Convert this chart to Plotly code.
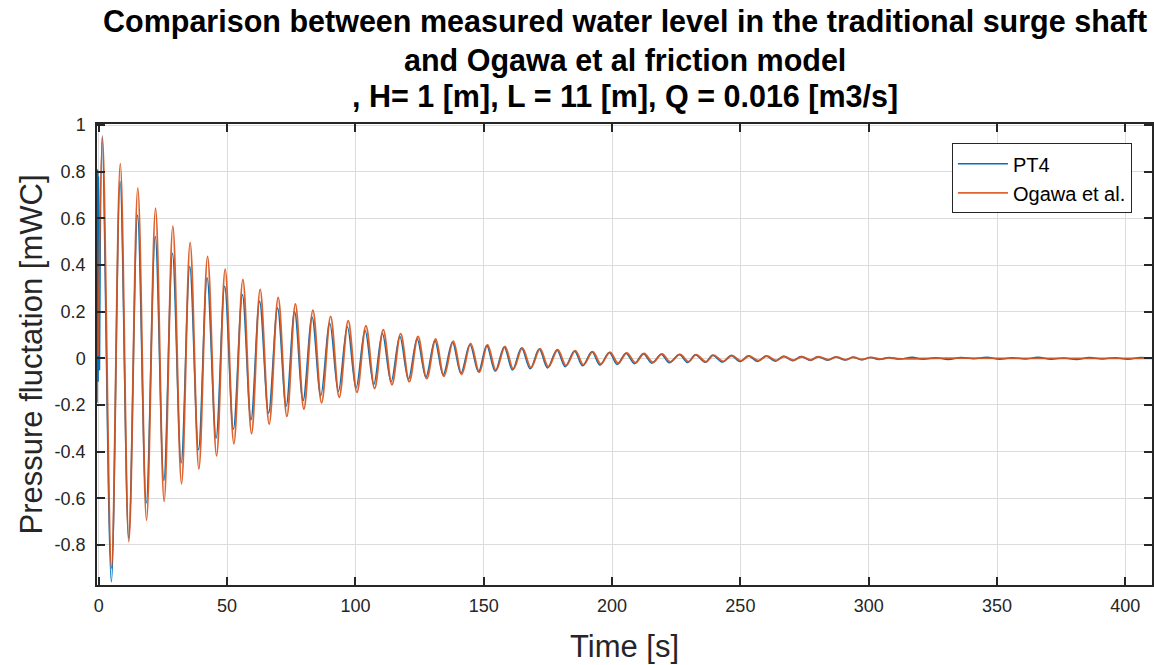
import plotly.graph_objects as go

# ---------------- data ----------------
# Ogawa et al. model: successive extrema (peak, trough, peak, ...)
ogawa_t = [-0.27, 1.44, 4.95, 8.38, 11.70, 15.20, 18.60, 22.11, 25.46, 28.85, 32.24,
           35.59, 38.99, 42.38, 45.89, 49.24, 52.63, 56.14, 59.53, 62.88, 66.39,
           69.90, 73.29, 76.61, 79.92, 83.43, 86.82, 90.33, 93.68, 97.19, 100.58,
           104.09, 107.48, 110.84, 114.23, 117.62, 120.97, 124.37, 127.76, 131.27, 134.50,
           138.13, 141.40, 144.91, 148.26, 151.46, 154.78, 158.28, 161.52, 165.03, 168.42,
           171.93, 175.17, 178.83, 182.07, 185.69, 188.81, 192.48, 195.59, 199.22, 202.34,
           205.73, 209.08, 212.48, 215.87, 219.49, 222.61, 226.51, 229.75, 232.75, 236.65,
           239.49, 243.39, 246.67, 250.18, 253.41, 257.04, 260.31, 263.94, 267.06, 270.68,
           273.96, 277.47, 280.43, 284.33, 287.33, 291.23, 294.07, 297.47, 300.97, 304.4,
           307.8, 311.2, 330.0, 360.0, 410.4]
ogawa_v = [0.01, 0.947, -0.900, 0.835, -0.786, 0.731, -0.694, 0.644, -0.613, 0.567, -0.538,
           0.497, -0.474, 0.437, -0.418, 0.382, -0.366, 0.338, -0.323, 0.296, -0.282,
           0.261, -0.249, 0.233, -0.217, 0.206, -0.191, 0.180, -0.167, 0.161, -0.146,
           0.140, -0.129, 0.123, -0.113, 0.106, -0.100, 0.094, -0.087, 0.083, -0.077,
           0.074, -0.069, 0.064, -0.060, 0.058, -0.052, 0.051, -0.046, 0.045, -0.040,
           0.041, -0.036, 0.037, -0.031, 0.033, -0.028, 0.029, -0.024, 0.026, -0.021,
           0.023, -0.019, 0.021, -0.017, 0.019, -0.015, 0.017, -0.014, 0.016, -0.015,
           0.014, -0.013, 0.012, -0.011, 0.010, -0.010, 0.010, -0.009, 0.008, -0.008,
           0.007, -0.007, 0.007, -0.006, 0.006, -0.006, 0.005, -0.005, 0.004, -0.003,
           0.002, -0.002, 0.001, 0.0, 0.0]

# PT4 measurement: initial spike (opening transient)
pt4_spike_t = [-0.70, -0.58, -0.48, -0.36, -0.26, -0.14, -0.04, 0.08, 0.18, 0.27]
pt4_spike_v = [-0.19, 0.81, -0.12, 0.80, -0.10, 0.78, -0.08, 0.60, -0.05, -0.05]

# PT4 measurement: successive extrema and residual noise
pt4_t = [0.27, 1.35, 4.90, 8.30, 11.65, 15.10, 18.50, 22.00, 25.35, 28.70, 32.10,
         35.45, 38.85, 42.20, 45.70, 49.05, 52.45, 55.95, 59.30, 62.65, 66.15,
         69.65, 73.00, 76.30, 79.60, 83.10, 86.50, 90.00, 93.35, 96.85, 100.25,
         103.75, 107.15, 110.50, 113.90, 117.30, 120.65, 124.05, 127.45, 130.95, 134.20,
         137.80, 141.10, 144.60, 147.95, 151.15, 154.45, 157.95, 161.20, 164.70, 168.10,
         171.60, 174.85, 178.50, 181.75, 185.35, 188.50, 192.15, 195.30, 198.90, 202.00,
         205.40, 208.75, 212.15, 215.55, 219.15, 222.30, 226.20, 229.45, 232.45, 236.30,
         239.15, 243.05, 246.35, 249.85, 253.10, 256.70, 260.00, 263.60, 266.75, 270.35,
         273.65, 277.15, 280.10, 284.00, 287.00, 290.90, 293.75, 297.15, 300.65, 304.0,
         308.0, 312.0, 317.0, 321.0, 326.0, 331.0, 336.0, 341.0, 346.0, 351.0,
         356.0, 361.0, 366.0, 371.0, 376.0, 381.0, 386.0, 391.0, 396.0, 401.0,
         406.0, 410.4]
pt4_v = [-0.05, 0.955, -0.958, 0.758, -0.770, 0.615, -0.620, 0.523, -0.524, 0.451, -0.449,
         0.394, -0.392, 0.346, -0.342, 0.309, -0.303, 0.273, -0.264, 0.245, -0.235,
         0.216, -0.205, 0.200, -0.181, 0.176, -0.160, 0.151, -0.142, 0.136, -0.126,
         0.119, -0.112, 0.107, -0.100, 0.094, -0.089, 0.083, -0.080, 0.076, -0.071,
         0.069, -0.064, 0.059, -0.058, 0.055, -0.055, 0.049, -0.050, 0.044, -0.045,
         0.040, -0.041, 0.036, -0.036, 0.032, -0.032, 0.028, -0.029, 0.025, -0.026,
         0.022, -0.023, 0.020, -0.021, 0.018, -0.019, 0.016, -0.018, 0.015, -0.017,
         0.013, -0.016, 0.012, -0.014, 0.011, -0.013, 0.010, -0.012, 0.009, -0.010,
         0.008, -0.009, 0.007, -0.008, 0.006, -0.007, 0.005, -0.006, 0.004, -0.005,
         0.004, -0.003, 0.005, -0.004, 0.003, -0.005, 0.004, -0.002, 0.005, -0.004,
         0.003, -0.003, 0.005, -0.004, 0.002, -0.005, 0.004, -0.003, 0.003, -0.004,
         0.004, 0.0]

x_ticks = [0, 50, 100, 150, 200, 250, 300, 350, 400]
y_ticks = [-0.8, -0.6, -0.4, -0.2, 0, 0.2, 0.4, 0.6, 0.8, 1]
y_ticktext = ["-0.8", "-0.6", "-0.4", "-0.2", "0", "0.2", "0.4", "0.6", "0.8", "1"]

title_lines = ["Comparison between measured water level in the traditional surge shaft",
               "and Ogawa et al friction model",
               ", H= 1 [m], L = 11 [m], Q = 0.016 [m3/s]"]

BLUE = "#0072BD"
ORANGE = "#D95319"
FONT = "Liberation Sans, Arial, sans-serif"

fig = go.Figure()
fig.add_trace(go.Scatter(x=pt4_spike_t, y=pt4_spike_v, mode="lines", name="PT4",
                         legendgroup="pt4", showlegend=False,
                         line=dict(color=BLUE, width=1.5)))
fig.add_trace(go.Scatter(x=pt4_t, y=pt4_v, mode="lines", name="PT4", legendgroup="pt4",
                         line=dict(color=BLUE, width=1.5, shape="spline", smoothing=1.0)))
fig.add_trace(go.Scatter(x=ogawa_t, y=ogawa_v, mode="lines", name="Ogawa et al.",
                         line=dict(color=ORANGE, width=1.9, shape="spline", smoothing=1.0),
                         opacity=0.9))

axis_common = dict(showline=True, linecolor="#262626", linewidth=1.5, mirror="ticks",
                   ticks="inside", ticklen=8, tickwidth=1.5, tickcolor="#262626",
                   showgrid=True, gridcolor="#DCDCDC", gridwidth=1, zeroline=False,
                   automargin=False,
                   tickfont=dict(family=FONT, size=18, color="#262626"))

fig.update_xaxes(range=[-0.7, 410.4], tickvals=x_ticks,
                 title=dict(text="Time [s]", font=dict(family=FONT, size=31, color="#262626"),
                            standoff=20),
                 ticklabelstandoff=4,
                 **axis_common)
fig.update_yaxes(range=[-0.972, 1.005], tickvals=y_ticks, ticktext=y_ticktext,
                 title=dict(text="Pressure fluctation [mWC]",
                            font=dict(family=FONT, size=31, color="#262626"), standoff=3),
                 ticklabelstandoff=6,
                 **axis_common)

for line, py in zip(title_lines, [22, 60, 97]):
    fig.add_annotation(text="<b>" + line + "</b>", xref="paper", yref="paper",
                       x=0.5, y=(585 - py) / 461.0, xanchor="center", yanchor="middle",
                       showarrow=False, font=dict(family=FONT, size=30.5, color="black"))

fig.update_layout(
    width=1154, height=665,
    margin=dict(l=97, r=2, t=124, b=80),
    paper_bgcolor="white", plot_bgcolor="white",
    showlegend=True,
    legend=dict(x=0.981, y=0.958, xanchor="right", yanchor="top",
                bgcolor="white", bordercolor="#262626", borderwidth=1,
                font=dict(family=FONT, size=20, color="black"),
                tracegroupgap=0, itemwidth=50),
)

fig.write_html("out.html", config={"displayModeBar": False},
               post_script="document.body.style.margin='0';")
